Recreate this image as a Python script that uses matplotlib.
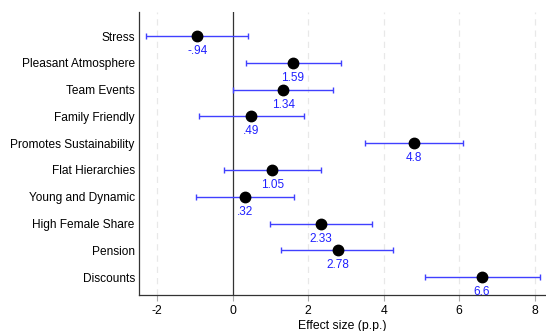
import matplotlib
matplotlib.use("Agg")
import matplotlib.pyplot as plt
import numpy as np

categories = ["Stress", "Pleasant Atmosphere", "Team Events", "Family Friendly",
              "Promotes Sustainability", "Flat Hierarchies", "Young and Dynamic",
              "High Female Share", "Pension", "Discounts"]
estimates = [-0.94, 1.59, 1.34, 0.49, 4.8, 1.05, 0.32, 2.33, 2.78, 6.6]
ci_low = [-2.30, 0.35, 0.02, -0.90, 3.50, -0.24, -0.97, 0.99, 1.29, 5.09]
ci_high = [0.42, 2.87, 2.67, 1.89, 6.11, 2.34, 1.62, 3.70, 4.26, 8.13]
value_labels = ["-.94", "1.59", "1.34", ".49", "4.8", "1.05", ".32", "2.33", "2.78", "6.6"]
xticks = [-2, 0, 2, 4, 6, 8]

plt.rcParams["font.family"] = ["Liberation Sans", "DejaVu Sans"]

fig = plt.figure(figsize=(5.46, 3.31), dpi=100)
ax = fig.add_axes([139 / 546, 1 - 295 / 331, 1 - 139 / 546, (295 - 12) / 331])

ypos = np.arange(1, len(categories) + 1)
est = np.array(estimates)
lo = est - np.array(ci_low)
hi = np.array(ci_high) - est

blue = "#4040ff"
for x in xticks:
    if x != 0:
        ax.axvline(x, color="#e8e8e8", lw=0.9, ls=(0, (5, 4)), zorder=0)
ax.axvline(0, color="#333333", lw=0.9, zorder=1)

ax.errorbar(est, ypos, xerr=[lo, hi], fmt="none", ecolor=blue, elinewidth=1.0,
            capsize=2.5, capthick=1.0, zorder=2)
ax.plot(est, ypos, "o", color="black", markersize=7.5, zorder=3)

for x, y, s in zip(est, ypos, value_labels):
    ax.annotate(s, (x, y), xytext=(0, -6.5), textcoords="offset points",
                ha="center", va="top", color="#2020ff", fontsize=8.5)

ax.set_xlim(-2.48, 8.3)
ax.set_ylim(len(categories) + 0.67, 0.1)
ax.set_yticks(ypos)
ax.set_yticklabels(categories, fontsize=8.6)
ax.set_xticks(xticks)
ax.set_xticklabels([str(x) for x in xticks], fontsize=8.8)
ax.tick_params(axis="y", length=0, pad=3)
ax.tick_params(axis="x", length=4, color="#aaaaaa", pad=3)
ax.set_xlabel("Effect size (p.p.)", fontsize=8.8, labelpad=2)

for side in ["top", "right"]:
    ax.spines[side].set_visible(False)
for side in ["left", "bottom"]:
    ax.spines[side].set_color("#333333")
    ax.spines[side].set_linewidth(0.9)

fig.savefig("out.png", dpi=100)
